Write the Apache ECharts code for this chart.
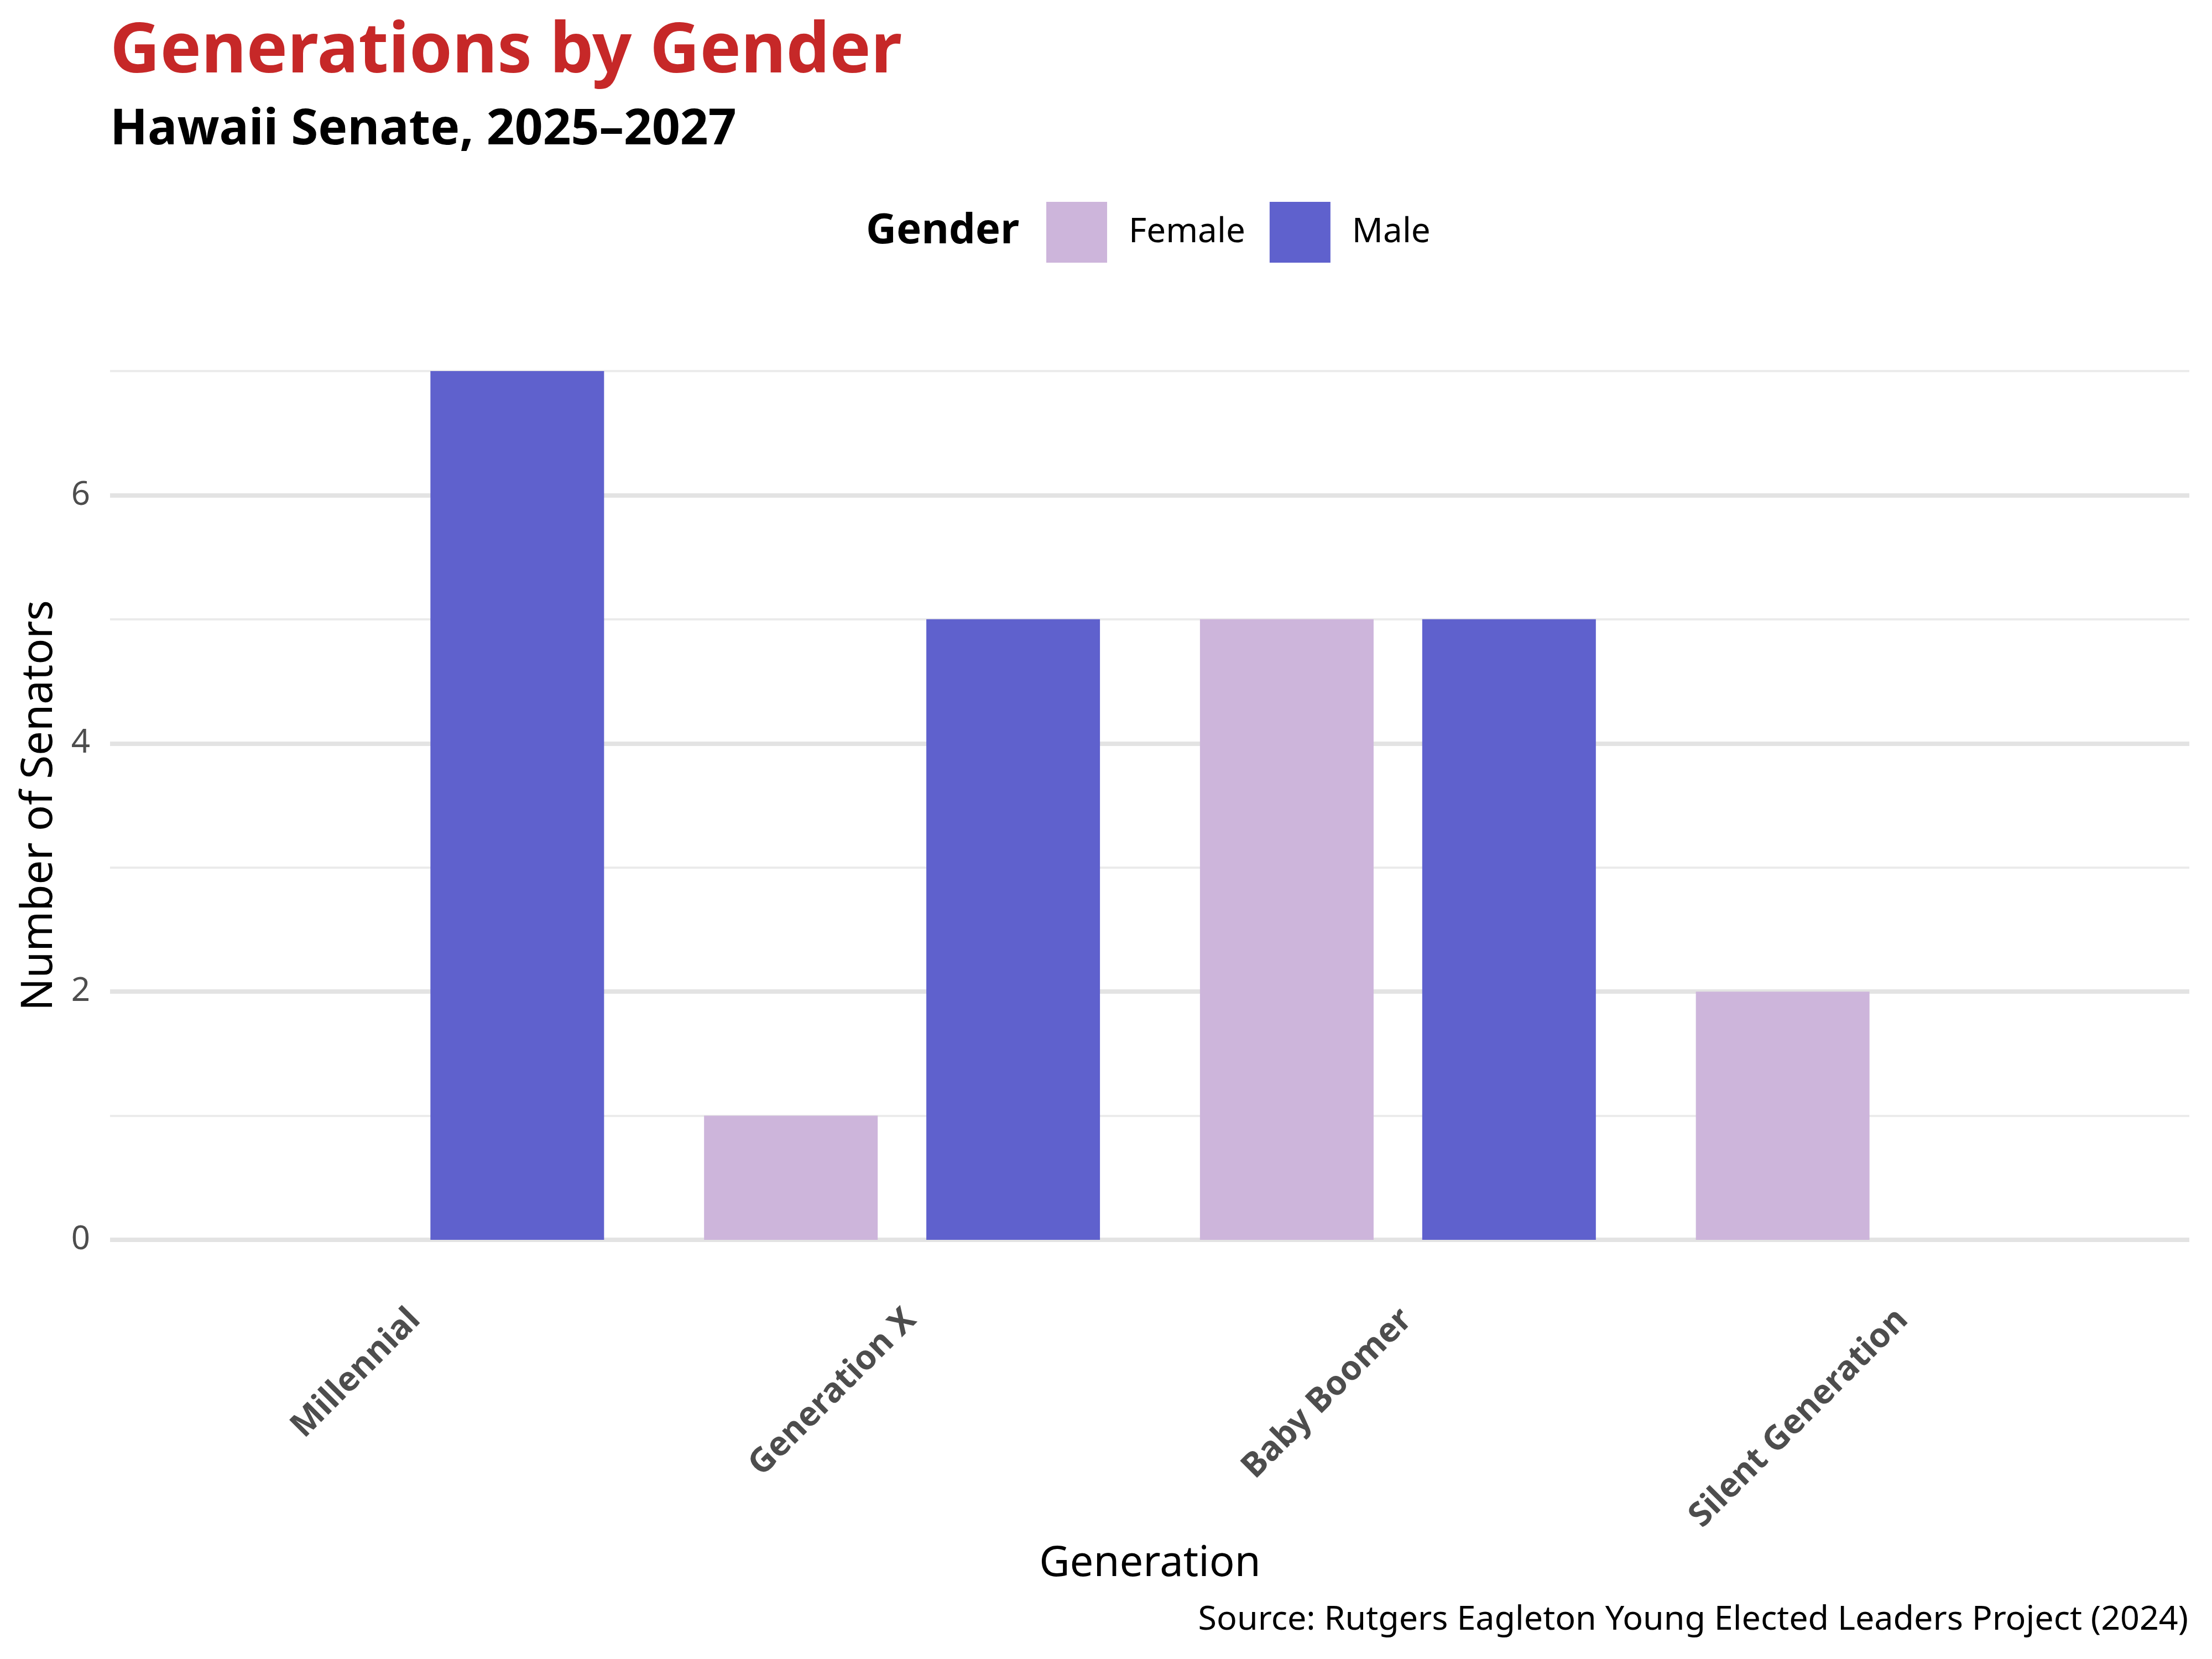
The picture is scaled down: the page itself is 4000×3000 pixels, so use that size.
<!DOCTYPE html>
<html>
<head>
<meta charset="utf-8">
<script src="https://cdn.jsdelivr.net/npm/echarts@6/dist/echarts.min.js"></script>
<style>html,body{margin:0;padding:0;background:#fff;}#chart{width:4000px;height:3000px;}</style>
</head>
<body>
<div id="chart"></div>
<script>
const categories = ['Millennial', 'Generation X', 'Baby Boomer', 'Silent Generation'];
const femaleValues = [0, 1, 5, 2];
const maleValues = [7, 5, 5, 0];
const seriesNames = ['Female', 'Male'];
const yMin = 0, yMax = 7;

const FONT = 'Noto Sans';
const chart = echarts.init(document.getElementById('chart'), null, {renderer: 'canvas'});

const plotTop = 671, plotBottom = 758;

const option = {
  backgroundColor: '#ffffff',
  animation: false,
  color: ['#CDB5DB', '#5F61CD'],
  grid: [
    {left: 199, right: 41, top: plotTop, bottom: plotBottom, containLabel: false, outerBoundsMode: 'none'},
    {left: 286, right: 127, top: plotTop, bottom: plotBottom, containLabel: false, outerBoundsMode: 'none'}
  ],
  legend: {
    data: seriesNames,
    left: 1887, top: 360,
    icon: 'rect',
    itemWidth: 110, itemHeight: 110,
    itemGap: 44,
    textStyle: {fontFamily: FONT, fontSize: 62, color: '#000', padding: [0, 0, 0, 34]}
  },
  xAxis: [
    {type: 'value', gridIndex: 0, show: false, min: 0, max: 1},
    {
      type: 'category', gridIndex: 1, data: categories,
      axisLine: {show: false}, axisTick: {show: false},
      axisLabel: {rotate: 45, fontFamily: FONT, fontSize: 61, fontWeight: 'bold', color: '#4D4D4D', margin: 108, interval: 0,
        verticalAlign: 'top', padding: [0, 8, 0, 0]},
      name: 'Generation', nameLocation: 'middle', nameGap: 548,
      nameTextStyle: {fontFamily: FONT, fontSize: 76, color: '#000'}
    }
  ],
  yAxis: [
    {
      type: 'value', gridIndex: 0, position: 'left', min: yMin, max: yMax, interval: 1,
      axisLine: {show: false}, axisTick: {show: false}, axisLabel: {show: false},
      splitLine: {show: true, lineStyle: {color: '#EBEBEB', width: 4}}
    },
    {
      type: 'value', gridIndex: 0, position: 'left', offset: 0, min: yMin, max: yMax, interval: 2,
      axisLine: {show: false}, axisTick: {show: false},
      axisLabel: {fontFamily: FONT, fontSize: 60, color: '#4D4D4D', margin: 36, showMaxLabel: false,
        formatter: v => (v % 2 === 0 ? String(v) : '')},
      splitLine: {show: true, showMaxLine: false, lineStyle: {color: '#E3E3E3', width: 8}},
      name: 'Number of Senators', nameLocation: 'middle', nameGap: 88,
      nameTextStyle: {fontFamily: FONT, fontSize: 78, color: '#000'}
    },
    {
      type: 'value', gridIndex: 1, position: 'left', min: yMin, max: yMax, show: false,
      splitLine: {show: false}
    }
  ],
  graphic: [
    {type: 'text', x: 199, y: 95, style: {text: 'Generations by Gender', fontFamily: FONT, fontSize: 125, fontWeight: 'bold', fill: '#C62828', align: 'left', verticalAlign: 'middle'}},
    {type: 'text', x: 199, y: 236, style: {text: 'Hawaii Senate, 2025–2027', fontFamily: FONT, fontSize: 89, fontWeight: 'bold', fill: '#000', align: 'left', verticalAlign: 'middle'}},
    {type: 'text', x: 1566, y: 418, style: {text: 'Gender', fontFamily: FONT, fontSize: 76, fontWeight: 'bold', fill: '#000', align: 'left', verticalAlign: 'middle'}},
    {type: 'text', x: 3957, y: 2930, style: {text: 'Source: Rutgers Eagleton Young Elected Leaders Project (2024)', fontFamily: FONT, fontSize: 61, fill: '#000', align: 'right', verticalAlign: 'middle'}}
  ],
  series: [
    {name: seriesNames[0], type: 'bar', xAxisIndex: 1, yAxisIndex: 2, data: femaleValues, barWidth: 314, barGap: '28%'},
    {name: seriesNames[1], type: 'bar', xAxisIndex: 1, yAxisIndex: 2, data: maleValues, barWidth: 314, barGap: '28%'}
  ]
};
chart.setOption(option);
</script>
</body>
</html>
